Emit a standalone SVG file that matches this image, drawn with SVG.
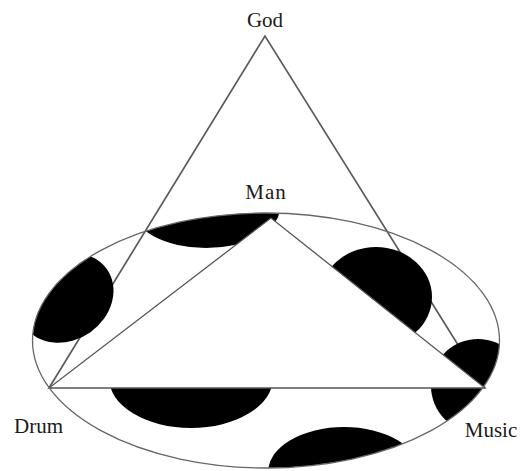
<svg xmlns="http://www.w3.org/2000/svg" width="521" height="471" viewBox="0 0 521 471">
<style>
.lbl{font-family:"Liberation Serif","Times New Roman",serif;font-size:21px;fill:#1a1a1a;text-anchor:middle}
.god{fill:none;stroke:#5a5a5a;stroke-width:1.7}
.blob{fill:#000}
.tri{fill:#fff;stroke:#555;stroke-width:1.3;stroke-linejoin:miter}
.rim{fill:none;stroke:#666;stroke-width:1.3}
</style>
<defs>
<clipPath id="plate"><ellipse cx="266" cy="340.5" rx="233.5" ry="127.5"/></clipPath>
</defs>
<rect width="521" height="471" fill="#fff"/>
<g id="plate-disc">
<ellipse cx="266" cy="340.5" rx="233.5" ry="127.5" fill="#fff"/>
</g>
<g id="connectors">
<polyline class="god" points="49,388 265,36 485,388"/>
</g>
<g id="blobs" clip-path="url(#plate)">
<ellipse class="blob" cx="66" cy="298" rx="50" ry="42" transform="rotate(-35 66 298)"/>
<ellipse class="blob" cx="206" cy="208" rx="74" ry="40"/>
<ellipse class="blob" cx="376" cy="297" rx="56" ry="50"/>
<circle class="blob" cx="478" cy="386" r="47"/>
<ellipse class="blob" cx="191" cy="378" rx="82" ry="50"/>
<ellipse class="blob" cx="344" cy="472" rx="76" ry="45"/>
</g>
<g id="man-triangle">
<polygon class="tri" points="271,218 49,388 485,388"/>
</g>
<ellipse class="rim" cx="266" cy="340.5" rx="233.5" ry="127.5"/>
<g id="god"><text class="lbl" x="265" y="27">God</text></g>
<g id="man"><text class="lbl" x="266" y="199" letter-spacing="1">Man</text></g>
<g id="drum"><text class="lbl" x="38.5" y="433">Drum</text></g>
<g id="music"><text class="lbl" x="491" y="437">Music</text></g>
</svg>
